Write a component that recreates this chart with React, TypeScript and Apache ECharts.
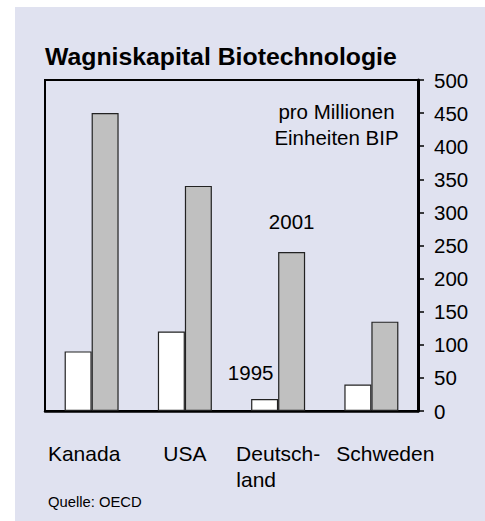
import React, { useEffect, useRef } from "react";
import * as echarts from "echarts";

const categories = ["Kanada", "USA", "Deutschland", "Schweden"];
const values1995 = [90, 120, 18, 40];
const values2001 = [450, 340, 240, 135];
const yMin = 0;
const yMax = 500;
const yInterval = 50;

const FONT = "'Liberation Sans', Arial, Helvetica, sans-serif";

export default function App() {
  const ref = useRef<HTMLDivElement>(null);
  useEffect(() => {
    if (!ref.current) return;
    const chart = echarts.init(ref.current, null, { renderer: "svg" });
    const labelMap: Record<string, string> = {
      Kanada: "{k|Kanada}",
      USA: "{u|USA}",
      Deutschland: "{d1|Deutsch-}\n{d2|land}",
      Schweden: "{s|Schweden}",
    };
    const base = { fontSize: 21, fontFamily: FONT, color: "#000", lineHeight: 26 };
    chart.setOption({
      animation: false,
      backgroundColor: "#ffffff",
      textStyle: { fontFamily: FONT },
      graphic: [
        {
          type: "rect",
          z: -10,
          shape: { x: 15, y: 7, width: 470, height: 514 },
          style: { fill: "#e0e2f0" },
          silent: true,
        },
        {
          type: "text",
          x: 45,
          y: 56,
          style: {
            text: "Wagniskapital Biotechnologie",
            fontSize: 24.8,
            fontWeight: "bold",
            fontFamily: FONT,
            fill: "#000",
            verticalAlign: "middle",
            align: "left",
          },
        },
        {
          type: "text",
          x: 336.5,
          y: 124.5,
          style: {
            text: "pro Millionen\nEinheiten BIP",
            fontSize: 20.5,
            lineHeight: 26,
            fontFamily: FONT,
            fill: "#000",
            align: "center",
            verticalAlign: "middle",
          },
        },
        {
          type: "text",
          x: 48,
          y: 502,
          style: {
            text: "Quelle: OECD",
            fontSize: 14.8,
            fontFamily: FONT,
            fill: "#000",
            align: "left",
            verticalAlign: "middle",
          },
        },
      ],
      grid: {
        left: 45,
        right: 67,
        top: 80,
        bottom: 110,
        show: true,
        borderColor: "#000",
        borderWidth: 2,
        backgroundColor: "transparent",
      },
      xAxis: {
        type: "category",
        data: categories,
        axisLine: { show: true, lineStyle: { color: "#000", width: 2.5 } },
        axisTick: { show: false },
        axisLabel: {
          interval: 0,
          margin: 29,
          formatter: (v: string) => labelMap[v] ?? v,
          rich: {
            k: { ...base, padding: [0, 15, 0, 0] },
            u: { ...base },
            d1: { ...base },
            d2: { ...base, padding: [0, 44, 0, 0] },
            s: { ...base, padding: [0, 0, 0, 28] },
          },
        },
        splitLine: { show: false },
      },
      yAxis: {
        type: "value",
        position: "right",
        min: yMin,
        max: yMax,
        interval: yInterval,
        axisLine: { show: true, lineStyle: { color: "#000", width: 3 } },
        axisTick: { show: true, length: 6, lineStyle: { color: "#000", width: 1.5 } },
        axisLabel: { color: "#000", fontSize: 20.5, fontFamily: FONT, margin: 16 },
        splitLine: { show: false },
      },
      series: [
        {
          name: "1995",
          type: "bar",
          barWidth: 27,
          barGap: "0%",
          data: values1995.map((v, i) =>
            i === 2
              ? {
                  value: v,
                  label: {
                    show: true,
                    position: "top",
                    distance: 16,
                    offset: [-14, 0],
                    formatter: "1995",
                    fontSize: 20.5,
                    fontFamily: FONT,
                    color: "#000",
                  },
                }
              : v
          ),
          itemStyle: { color: "#ffffff", borderColor: "#222", borderWidth: 1.2 },
        },
        {
          name: "2001",
          type: "bar",
          barWidth: 27,
          barGap: "0%",
          data: values2001.map((v, i) =>
            i === 2
              ? {
                  value: v,
                  label: {
                    show: true,
                    position: "top",
                    distance: 20,
                    formatter: "2001",
                    fontSize: 20.5,
                    fontFamily: FONT,
                    color: "#000",
                  },
                }
              : v
          ),
          itemStyle: { color: "#c0c0c0", borderColor: "#222", borderWidth: 1.2 },
        },
      ],
    });
    return () => chart.dispose();
  }, []);
  return (
    <div
      ref={ref}
      style={{ position: "fixed", left: 0, top: 0, width: 485, height: 521 }}
    />
  );
}
